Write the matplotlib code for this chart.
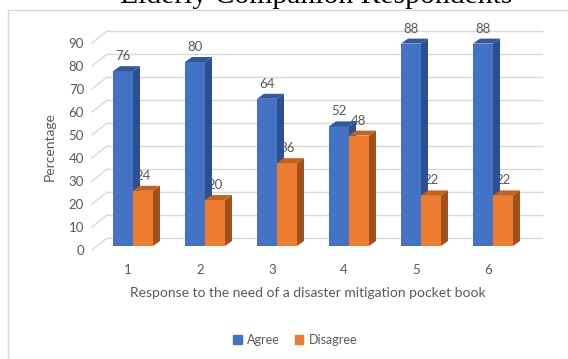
import matplotlib.pyplot as plt
from matplotlib.patches import Polygon, Rectangle, Patch

# Data
groups = ['1', '2', '3', '4', '5', '6']
agree = [76, 80, 64, 52, 88, 88]
disagree = [24, 20, 36, 48, 22, 22]
y_ticks = [0, 10, 20, 30, 40, 50, 60, 70, 80, 90]

blue = ['#4472C4', '#2E5090', '#34589C']
orange = ['#ED7D31', '#A3511C', '#C2631F']
grid_c = '#D9D9D9'
text_c = '#595959'

plt.rcParams['font.family'] = ['Lato', 'DejaVu Sans']

fig = plt.figure(figsize=(5.68, 3.59), dpi=100)
ax = fig.add_axes([61 / 568, (359 - 269) / 359, 504 / 568, 253 / 359])
ax.set_xlim(-1, 6)
ax.set_ylim(-10, 100)
ax.axis('off')

# chart border
fig.patches.append(Rectangle((8 / 568, -0.1), 1.2, 1 - 10 / 359 + 0.1,
                             transform=fig.transFigure, fill=False,
                             edgecolor=grid_c, linewidth=1))

# 3D offsets (data units)
bw = 20 / 72
dx = 7 / 72
dy = 5 / 2.3
wall_x0 = -0.36
wall_x1 = 5.68
wall_dy = 8 / 2.3
front_x = -0.57
front_dy = -4 / 2.3

# back wall gridlines and floor diagonals
for v in y_ticks:
    ax.plot([wall_x0, wall_x1], [v + wall_dy, v + wall_dy], color=grid_c, lw=1, zorder=1)
    ax.plot([front_x, wall_x0], [v + front_dy, v + wall_dy], color=grid_c, lw=1, zorder=1)
    ax.text(-0.68, v - 2.2, str(v), ha='right', va='center', fontsize=9.5, color=text_c)


def bar3d(x0, v, cols):
    ax.bar(x0, v, width=bw, align='edge', color=cols[0], zorder=3)
    x1 = x0 + bw
    ax.add_patch(Polygon([(x1, 0), (x1 + dx, dy), (x1 + dx, v + dy), (x1, v)],
                         closed=True, facecolor=cols[1], edgecolor='none', zorder=3))
    ax.add_patch(Polygon([(x0, v), (x1, v), (x1 + dx, v + dy), (x0 + dx, v + dy)],
                         closed=True, facecolor=cols[2], edgecolor='none', zorder=3))
    # labels sit behind the bars, like in the original
    ax.text(x0 + bw / 2, v + 6.5, str(v), ha='center', va='center',
            fontsize=9.5, color=text_c, zorder=2)


for i in range(len(groups)):
    bar3d(i - bw, agree[i], blue)
    bar3d(i, disagree[i], orange)
    ax.text(i - 0.07, -10.4, groups[i], ha='center', va='center', fontsize=9.5, color=text_c)

ax.text(2.43, -20.4, 'Response to the need of a disaster mitigation pocket book',
        ha='center', va='center', fontsize=10, color=text_c, clip_on=False)
fig.text(50 / 568, 1 - 147 / 359, 'Percentage', rotation=90, ha='center', va='center',
         fontsize=10, color=text_c)

fig.text(316 / 568, 1 - 3 / 359, 'Elderly Companion Respondents', ha='center',
         va='baseline', fontsize=21.3, family='Liberation Serif', color='black')

handles = [Patch(color=blue[0], label='Agree'), Patch(color=orange[0], label='Disagree')]
leg = fig.legend(handles=handles, loc='center', bbox_to_anchor=(295 / 568, 1 - 340 / 359),
                 ncol=2, frameon=False, fontsize=9, handlelength=0.7, handleheight=0.7,
                 handletextpad=0.4, columnspacing=1.2)
for t in leg.get_texts():
    t.set_color(text_c)

fig.savefig('out.png', dpi=100)
